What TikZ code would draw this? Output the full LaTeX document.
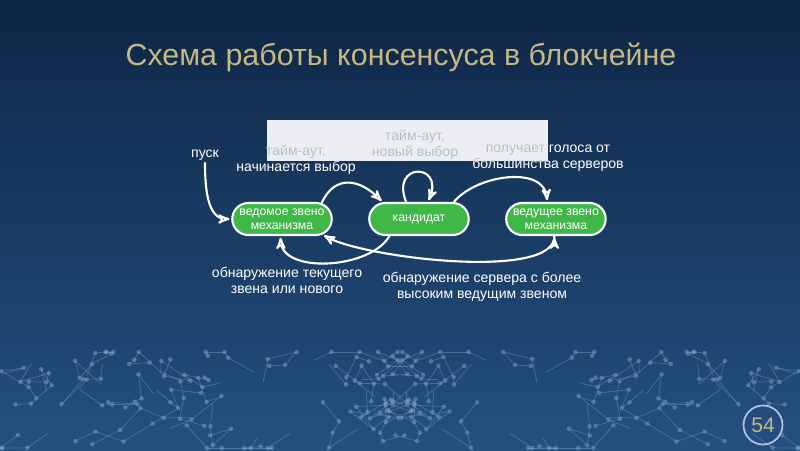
\documentclass[tikz,border=0pt]{standalone}
\usepackage{fontspec}
\setmainfont{Liberation Sans}
\usetikzlibrary{arrows,shapes.misc}

\definecolor{navytop}{RGB}{14,38,70}
\definecolor{navybot}{RGB}{36,80,128}
\definecolor{titletan}{RGB}{198,184,130}
\definecolor{statefill}{RGB}{64,184,72}
\definecolor{coverfill}{RGB}{236,238,244}
\definecolor{covertext}{RGB}{182,186,198}
\definecolor{netline}{RGB}{150,182,220}
\definecolor{ringline}{RGB}{176,196,226}

\newcommand{\txtstart}{тайм-аут,\\начинается выбор}
\newcommand{\txtagain}{тайм-аут,\\новый выбор}
\newcommand{\txtvotes}{получает голоса от\\большинства серверов}

\begin{document}
\begin{tikzpicture}[x=0.02cm,y=0.02cm,>=stealth',shorten >=1pt,auto,node distance=2.74cm,
    state node/.style={rounded rectangle,draw=white,line width=1.2pt,fill=statefill,text=white,
      minimum width=2.06cm,minimum height=0.64cm,inner sep=1pt,align=center,
      font=\fontsize{7}{7.8}\selectfont},
    note/.style={text=white,align=center,inner sep=1pt,font=\fontsize{8}{9.2}\selectfont},
    net/.style={draw=netline,line width=0.4pt,opacity=0.35}]
  \useasboundingbox (0,0) rectangle (800,-450);
  \shade[top color=navytop,bottom color=navybot] (0,0) rectangle (800,-450);
  \pgfmathsetseed{42}
  \foreach \k in {1,...,34}{
    \pgfmathsetmacro{\ax}{rnd*420}
    \pgfmathsetmacro{\ay}{-355-rnd*88}
    \xdef\netx{\ax}\xdef\nety{\ay}
    \foreach \j in {1,...,4}{
      \pgfmathsetmacro{\bx}{\netx+(rnd-0.5)*60}
      \pgfmathsetmacro{\by}{max(-448,min(-352,\nety+(rnd-0.5)*50))}
      \draw[net] (\netx,\nety) -- (\bx,\by) (800-\netx,\nety) -- (800-\bx,\by);
      \fill[netline,opacity=0.4] (\bx,\by) circle (1.3pt) (800-\bx,\by) circle (1.3pt);
      \xdef\netx{\bx}\xdef\nety{\by}
    }
  }

  \node[text=titletan,font=\fontsize{17.3}{20}\selectfont] (title) at (401,-57)
    {Схема работы консенсуса в блокчейне};

  \fill[coverfill] (267,-120) rectangle (548,-161);

  \node[state node] (f) at (282,-219) {ведомое звено\\механизма};
  \node[state node] (c) [right of=f] {кандидат};
  \node[state node] (l) [right of=c] {ведущее звено\\механизма};

  \node[note] (go) at (205,-155) {пуск};
  \node[note] (start) at (296,-160) {\txtstart};
  \node[note] (again) at (415,-145) {\txtagain};
  \node[note] (votes) at (548,-158) {\txtvotes};
  \node[note] (found) at (287,-280) {обнаружение текущего\\звена или нового};
  \node[note] (higher) at (482,-287) {обнаружение сервера с более\\высоким ведущим звеном};

  \begin{scope}
    \clip (267,-120) rectangle (548,-161);
    \node[note,text=covertext] (startg) at (start) {\txtstart};
    \node[note,text=covertext] (againg) at (again) {\txtagain};
    \node[note,text=covertext] (votesg) at (votes) {\txtvotes};
  \end{scope}

  \path[->,draw=white,line width=1.2pt]
    (go) edge [out=-90,in=180] (f)
    (f.22) edge [out=65,in=135,looseness=1.35] (c.155)
    (c.127) edge [out=112,in=68,looseness=5] (c.62)
    (c.26) edge [out=50,in=95] (l.117)
    (c.-150) edge [out=-120,in=-88,looseness=0.9] (f.-95)
    (l.-95) edge [out=-90,in=-30,looseness=0.5] (f.-21);

  \node[circle,draw=ringline,line width=1pt,minimum size=0.78cm,inner sep=0pt,
    text=titletan,font=\fontsize{12}{14}\selectfont] (page) at (763,-425) {54};
\end{tikzpicture}
\end{document}
